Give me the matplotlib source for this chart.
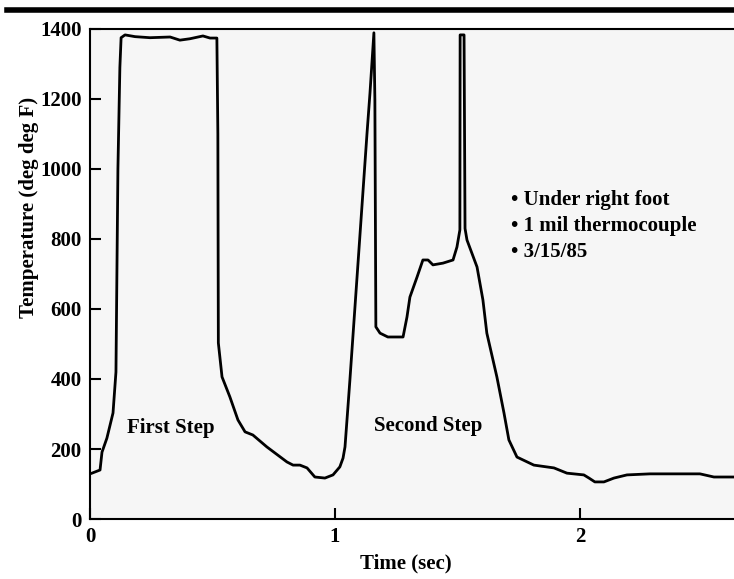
import matplotlib
matplotlib.use('Agg')
import matplotlib.pyplot as plt
from matplotlib.lines import Line2D

# tiempo (s) y temperatura (deg F)
time_s = [0.000, 0.008, 0.041, 0.049, 0.069, 0.094, 0.106, 0.114, 0.122, 0.127,
          0.143, 0.184, 0.245, 0.327, 0.367, 0.408, 0.461, 0.490, 0.518, 0.522,
          0.524, 0.539, 0.571, 0.604, 0.633, 0.665, 0.722, 0.804, 0.829, 0.857,
          0.886, 0.918, 0.959, 0.992, 1.020, 1.033, 1.041, 1.053, 1.061, 1.131,
          1.143, 1.159, 1.163, 1.167, 1.184, 1.216, 1.278, 1.294, 1.306, 1.335,
          1.359, 1.380, 1.400, 1.441, 1.482, 1.498, 1.510, 1.511, 1.527, 1.531,
          1.539, 1.580, 1.604, 1.620, 1.661, 1.690, 1.710, 1.743, 1.812, 1.894,
          1.947, 2.016, 2.037, 2.061, 2.098, 2.139, 2.192, 2.286, 2.490, 2.547,
          2.629]
temp_f = [129, 131, 140, 191, 231, 303, 420, 1000, 1290, 1375,
          1383, 1378, 1375, 1377, 1368, 1372, 1380, 1374, 1374, 1100,
          503, 406, 349, 283, 249, 240, 206, 163, 154, 154,
          146, 120, 117, 126, 149, 174, 206, 320, 397, 1103,
          1217, 1389, 1197, 549, 531, 520, 520, 577, 634, 691,
          740, 740, 726, 731, 740, 777, 826, 1383, 1383, 830,
          797, 720, 626, 531, 406, 303, 226, 177, 154, 146,
          131, 126, 117, 106, 106, 117, 126, 129, 129, 120,
          120]

x_ticks = [0, 1, 2]
y_ticks = [0, 200, 400, 600, 800, 1000, 1200, 1400]
notes = ['\u2022 Under right foot', '\u2022 1 mil thermocouple', '\u2022 3/15/85']

plt.rcParams['font.family'] = ['Liberation Serif', 'DejaVu Serif']
plt.rcParams['font.weight'] = 'bold'

fig = plt.figure(figsize=(7.34, 5.79), dpi=100)
ax = fig.add_axes([0.1226, 0.1036, 0.8774, 0.8464])
ax.set_facecolor('#f6f6f6')

ax.plot(time_s, temp_f, color='black', linewidth=2)

ax.set_xlim(0, 2.629)
ax.set_ylim(0, 1400)
ax.set_xticks(x_ticks)
ax.set_xticklabels([str(v) for v in x_ticks])
ax.set_yticks(y_ticks)
ax.set_yticklabels([str(v) for v in y_ticks])
ax.tick_params(direction='in', length=8, width=1.5, labelsize=15, pad=6)
for lbl in ax.get_xticklabels() + ax.get_yticklabels():
    lbl.set_fontweight('bold')

ax.spines['right'].set_visible(False)
for s in ['left', 'bottom', 'top']:
    ax.spines[s].set_linewidth(1.5)

ax.set_ylabel('Temperature (deg deg F)', fontsize=15, fontweight='bold')
ax.yaxis.set_label_coords(-0.079, 0.635)
ax.set_xlabel('Time (sec)', fontsize=15, fontweight='bold')
ax.xaxis.set_label_coords(0.49, -0.07)

ax.text(0.151, 260, 'First Step', fontsize=15, fontweight='bold', va='center')
ax.text(1.159, 266, 'Second Step', fontsize=15, fontweight='bold', va='center')
for i, line in enumerate(notes):
    ax.text(1.718, 911 - i * 74, line, fontsize=15, fontweight='bold', va='center')

# barra negra superior
fig.add_artist(Line2D([0.01, 1.0], [0.982, 0.982], transform=fig.transFigure,
                      color='black', linewidth=4))

fig.savefig('out.png', dpi=100, facecolor='white')
